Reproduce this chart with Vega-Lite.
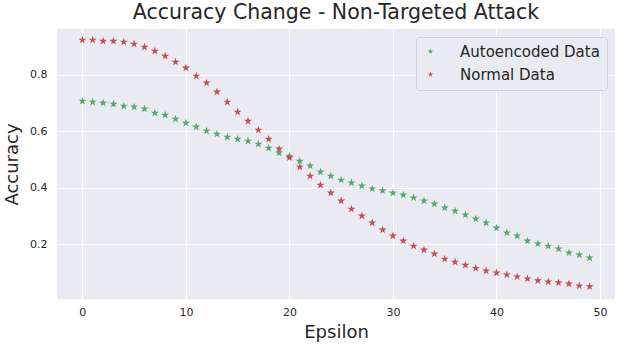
{
  "$schema": "https://vega.github.io/schema/vega-lite/v6.json",
  "autosize": {"type": "none"},
  "width": 558,
  "height": 270,
  "padding": {"left": 57, "top": 29, "right": 12, "bottom": 49},
  "background": "white",
  "title": {
    "text": "Accuracy Change - Non-Targeted Attack",
    "font": "DejaVu Sans",
    "fontSize": 20.5,
    "fontWeight": "normal",
    "color": "#262626",
    "anchor": "middle",
    "offset": 6
  },
  "config": {
    "view": {"fill": "#EAEAF2", "stroke": null},
    "axis": {
      "domain": false,
      "ticks": false,
      "grid": true,
      "gridColor": "#FFFFFF",
      "gridWidth": 1.2,
      "labelFont": "DejaVu Sans",
      "labelFontSize": 11,
      "labelColor": "#262626",
      "titleFont": "DejaVu Sans",
      "titleFontSize": 18,
      "titleFontWeight": "normal",
      "titleColor": "#262626"
    }
  },
  "data": {
    "values": [
      {"eps": 0, "series": "Autoencoded Data", "acc": 0.708},
      {"eps": 1, "series": "Autoencoded Data", "acc": 0.704},
      {"eps": 2, "series": "Autoencoded Data", "acc": 0.701},
      {"eps": 3, "series": "Autoencoded Data", "acc": 0.697},
      {"eps": 4, "series": "Autoencoded Data", "acc": 0.690},
      {"eps": 5, "series": "Autoencoded Data", "acc": 0.687},
      {"eps": 6, "series": "Autoencoded Data", "acc": 0.680},
      {"eps": 7, "series": "Autoencoded Data", "acc": 0.665},
      {"eps": 8, "series": "Autoencoded Data", "acc": 0.658},
      {"eps": 9, "series": "Autoencoded Data", "acc": 0.644},
      {"eps": 10, "series": "Autoencoded Data", "acc": 0.630},
      {"eps": 11, "series": "Autoencoded Data", "acc": 0.616},
      {"eps": 12, "series": "Autoencoded Data", "acc": 0.602},
      {"eps": 13, "series": "Autoencoded Data", "acc": 0.591},
      {"eps": 14, "series": "Autoencoded Data", "acc": 0.580},
      {"eps": 15, "series": "Autoencoded Data", "acc": 0.573},
      {"eps": 16, "series": "Autoencoded Data", "acc": 0.566},
      {"eps": 17, "series": "Autoencoded Data", "acc": 0.555},
      {"eps": 18, "series": "Autoencoded Data", "acc": 0.541},
      {"eps": 19, "series": "Autoencoded Data", "acc": 0.524},
      {"eps": 20, "series": "Autoencoded Data", "acc": 0.513},
      {"eps": 21, "series": "Autoencoded Data", "acc": 0.495},
      {"eps": 22, "series": "Autoencoded Data", "acc": 0.478},
      {"eps": 23, "series": "Autoencoded Data", "acc": 0.457},
      {"eps": 24, "series": "Autoencoded Data", "acc": 0.442},
      {"eps": 25, "series": "Autoencoded Data", "acc": 0.428},
      {"eps": 26, "series": "Autoencoded Data", "acc": 0.418},
      {"eps": 27, "series": "Autoencoded Data", "acc": 0.407},
      {"eps": 28, "series": "Autoencoded Data", "acc": 0.397},
      {"eps": 29, "series": "Autoencoded Data", "acc": 0.390},
      {"eps": 30, "series": "Autoencoded Data", "acc": 0.382},
      {"eps": 31, "series": "Autoencoded Data", "acc": 0.375},
      {"eps": 32, "series": "Autoencoded Data", "acc": 0.365},
      {"eps": 33, "series": "Autoencoded Data", "acc": 0.354},
      {"eps": 34, "series": "Autoencoded Data", "acc": 0.343},
      {"eps": 35, "series": "Autoencoded Data", "acc": 0.329},
      {"eps": 36, "series": "Autoencoded Data", "acc": 0.318},
      {"eps": 37, "series": "Autoencoded Data", "acc": 0.304},
      {"eps": 38, "series": "Autoencoded Data", "acc": 0.290},
      {"eps": 39, "series": "Autoencoded Data", "acc": 0.276},
      {"eps": 40, "series": "Autoencoded Data", "acc": 0.258},
      {"eps": 41, "series": "Autoencoded Data", "acc": 0.241},
      {"eps": 42, "series": "Autoencoded Data", "acc": 0.230},
      {"eps": 43, "series": "Autoencoded Data", "acc": 0.212},
      {"eps": 44, "series": "Autoencoded Data", "acc": 0.202},
      {"eps": 45, "series": "Autoencoded Data", "acc": 0.194},
      {"eps": 46, "series": "Autoencoded Data", "acc": 0.184},
      {"eps": 47, "series": "Autoencoded Data", "acc": 0.170},
      {"eps": 48, "series": "Autoencoded Data", "acc": 0.163},
      {"eps": 49, "series": "Autoencoded Data", "acc": 0.152},
      {"eps": 0, "series": "Normal Data", "acc": 0.924},
      {"eps": 1, "series": "Normal Data", "acc": 0.924},
      {"eps": 2, "series": "Normal Data", "acc": 0.920},
      {"eps": 3, "series": "Normal Data", "acc": 0.920},
      {"eps": 4, "series": "Normal Data", "acc": 0.917},
      {"eps": 5, "series": "Normal Data", "acc": 0.910},
      {"eps": 6, "series": "Normal Data", "acc": 0.899},
      {"eps": 7, "series": "Normal Data", "acc": 0.885},
      {"eps": 8, "series": "Normal Data", "acc": 0.867},
      {"eps": 9, "series": "Normal Data", "acc": 0.846},
      {"eps": 10, "series": "Normal Data", "acc": 0.825},
      {"eps": 11, "series": "Normal Data", "acc": 0.796},
      {"eps": 12, "series": "Normal Data", "acc": 0.772},
      {"eps": 13, "series": "Normal Data", "acc": 0.740},
      {"eps": 14, "series": "Normal Data", "acc": 0.704},
      {"eps": 15, "series": "Normal Data", "acc": 0.669},
      {"eps": 16, "series": "Normal Data", "acc": 0.637},
      {"eps": 17, "series": "Normal Data", "acc": 0.605},
      {"eps": 18, "series": "Normal Data", "acc": 0.573},
      {"eps": 19, "series": "Normal Data", "acc": 0.538},
      {"eps": 20, "series": "Normal Data", "acc": 0.507},
      {"eps": 21, "series": "Normal Data", "acc": 0.474},
      {"eps": 22, "series": "Normal Data", "acc": 0.442},
      {"eps": 23, "series": "Normal Data", "acc": 0.410},
      {"eps": 24, "series": "Normal Data", "acc": 0.382},
      {"eps": 25, "series": "Normal Data", "acc": 0.354},
      {"eps": 26, "series": "Normal Data", "acc": 0.325},
      {"eps": 27, "series": "Normal Data", "acc": 0.301},
      {"eps": 28, "series": "Normal Data", "acc": 0.276},
      {"eps": 29, "series": "Normal Data", "acc": 0.251},
      {"eps": 30, "series": "Normal Data", "acc": 0.230},
      {"eps": 31, "series": "Normal Data", "acc": 0.212},
      {"eps": 32, "series": "Normal Data", "acc": 0.194},
      {"eps": 33, "series": "Normal Data", "acc": 0.180},
      {"eps": 34, "series": "Normal Data", "acc": 0.166},
      {"eps": 35, "series": "Normal Data", "acc": 0.148},
      {"eps": 36, "series": "Normal Data", "acc": 0.137},
      {"eps": 37, "series": "Normal Data", "acc": 0.126},
      {"eps": 38, "series": "Normal Data", "acc": 0.115},
      {"eps": 39, "series": "Normal Data", "acc": 0.106},
      {"eps": 40, "series": "Normal Data", "acc": 0.099},
      {"eps": 41, "series": "Normal Data", "acc": 0.092},
      {"eps": 42, "series": "Normal Data", "acc": 0.085},
      {"eps": 43, "series": "Normal Data", "acc": 0.078},
      {"eps": 44, "series": "Normal Data", "acc": 0.071},
      {"eps": 45, "series": "Normal Data", "acc": 0.067},
      {"eps": 46, "series": "Normal Data", "acc": 0.064},
      {"eps": 47, "series": "Normal Data", "acc": 0.060},
      {"eps": 48, "series": "Normal Data", "acc": 0.053},
      {"eps": 49, "series": "Normal Data", "acc": 0.050}
    ]
  },
  "mark": {
    "type": "point",
    "shape": "M0,-1L0.2245,-0.309L0.951,-0.309L0.363,0.118L0.588,0.809L0,0.382L-0.588,0.809L-0.363,0.118L-0.951,-0.309L-0.2245,-0.309Z",
    "filled": true,
    "size": 72,
    "opacity": 1
  },
  "encoding": {
    "x": {
      "field": "eps",
      "type": "quantitative",
      "title": "Epsilon",
      "scale": {"domain": [-2.45, 51.45], "nice": false, "zero": false},
      "axis": {"values": [0, 10, 20, 30, 40, 50], "labelPadding": 7, "titlePadding": 6}
    },
    "y": {
      "field": "acc",
      "type": "quantitative",
      "title": "Accuracy",
      "scale": {"domain": [0.006, 0.963], "nice": false, "zero": false},
      "axis": {"values": [0.2, 0.4, 0.6, 0.8], "format": ".1f", "labelPadding": 10, "titlePadding": 8}
    },
    "color": {
      "field": "series",
      "type": "nominal",
      "scale": {"domain": ["Autoencoded Data", "Normal Data"], "range": ["#55A868", "#C44E52"]},
      "legend": {
        "title": null,
        "orient": "top-right",
        "offset": 8,
        "fillColor": "#EAEAF2",
        "strokeColor": "#D0D0D8",
        "cornerRadius": 3,
        "padding": 7,
        "symbolType": "M0,-1L0.2245,-0.309L0.951,-0.309L0.363,0.118L0.588,0.809L0,0.382L-0.588,0.809L-0.363,0.118L-0.951,-0.309L-0.2245,-0.309Z",
        "symbolSize": 34,
        "labelOffset": 22,
        "rowPadding": 7,
        "labelFont": "DejaVu Sans",
        "labelFontSize": 15,
        "labelColor": "#262626"
      }
    }
  }
}
